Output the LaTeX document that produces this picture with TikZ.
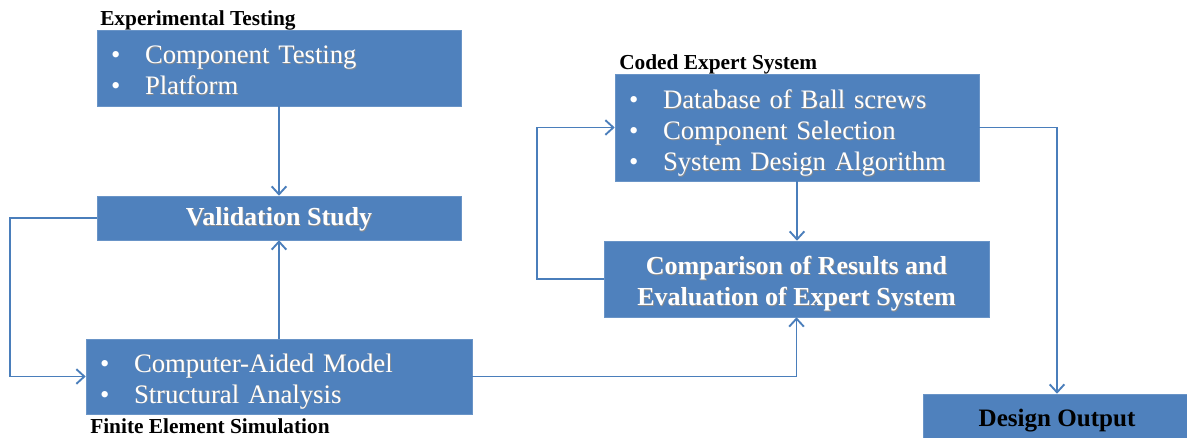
\documentclass[tikz,border=0pt]{standalone}
\usepackage{fontspec}
\setmainfont{Liberation Serif}
\usetikzlibrary{arrows.meta,positioning}

\definecolor{boxblue}{HTML}{4F81BD}
\definecolor{lineblue}{HTML}{4A7EBB}

% bullet with a fixed gap before the item text
\newcommand{\bitem}{\makebox[25.5pt][l]{\textbullet}}
% white text with a thin dark shadow
\newcommand{\shtxt}[1]{\leavevmode\rlap{\kern0.6pt\raisebox{-0.6pt}{\textcolor{black!45}{#1}}}#1}
% taller first line pushes the text block down a bit
\newcommand{\topgap}[1]{\rule{0pt}{#1}}

\tikzset{
	box/.style={shape=rectangle,fill=boxblue,draw=boxblue!85!white,line width=0.4pt,inner sep=0pt},
	listbox/.style={box,align=left,inner xsep=10.5pt,text=white,font=\fontsize{20}{23.25}\selectfont},
	headbox/.style={box,align=center,text=white,font=\bfseries\fontsize{19.5}{23.25}\selectfont},
	caption/.style={anchor=base west,inner sep=0pt,font=\bfseries\fontsize{16}{19}\selectfont},
	flow/.style={draw=lineblue,line width=1.4pt,-{Straight Barb[length=6pt,width=11pt]}}
}

\begin{document}
\begin{tikzpicture}[x=0.75pt,y=-0.75pt]
	\useasboundingbox (0,0) rectangle (1187,438);

	\node[listbox,text width=252pt,minimum height=57pt] (exp) at (279,68) {\topgap{17pt}\bitem\shtxt{Component Testing}\\\bitem\shtxt{Platform}};
	\node[headbox,minimum width=273pt,minimum height=33pt] (val) at (279,218) {\topgap{16.5pt}\shtxt{Validation Study}};
	\node[listbox,text width=268.5pt,minimum height=56.25pt] (cam) at (279,376.5) {\topgap{21.7pt}\bitem\shtxt{Computer-Aided Model}\\\bitem\shtxt{Structural Analysis}};
	\node[listbox,text width=252pt,minimum height=80.25pt] (ces) at (797,127.5) {\topgap{22.7pt}\bitem\shtxt{Database of Ball screws}\\\bitem\shtxt{Component Selection}\\\bitem\shtxt{System Design Algorithm}};
	\node[headbox,minimum width=288.75pt,minimum height=57pt] (cmp) at (796.5,279) {\topgap{21pt}\shtxt{Comparison of Results and}\\\shtxt{Evaluation of Expert System}};
	\node[headbox,text=black,font=\bfseries\fontsize{18.8}{22}\selectfont,minimum width=201pt,minimum height=36pt] (out) at (1057,418) {\topgap{17.5pt}Design Output};

	\node[caption] (exptitle) at (100,26) {Experimental Testing};
	\node[caption] (cestitle) at (619,69.5) {Coded Expert System};
	\node[caption] (femtitle) at (90,433) {Finite Element Simulation};

	\draw[flow] (exp) -- (val);
	\draw[flow] (cam) -- (val);
	\draw[flow] (val.west) -- ++(-87,0) |- (cam.west);
	\draw[flow] (cam.east) -| (cmp.south);
	\draw[flow] (ces.south) -- (ces.south |- cmp.north);
	\draw[flow] (cmp.west) -- ++(-67,0) |- (ces.west);
	\draw[flow] (ces.east) -| (out.north);
\end{tikzpicture}
\end{document}
